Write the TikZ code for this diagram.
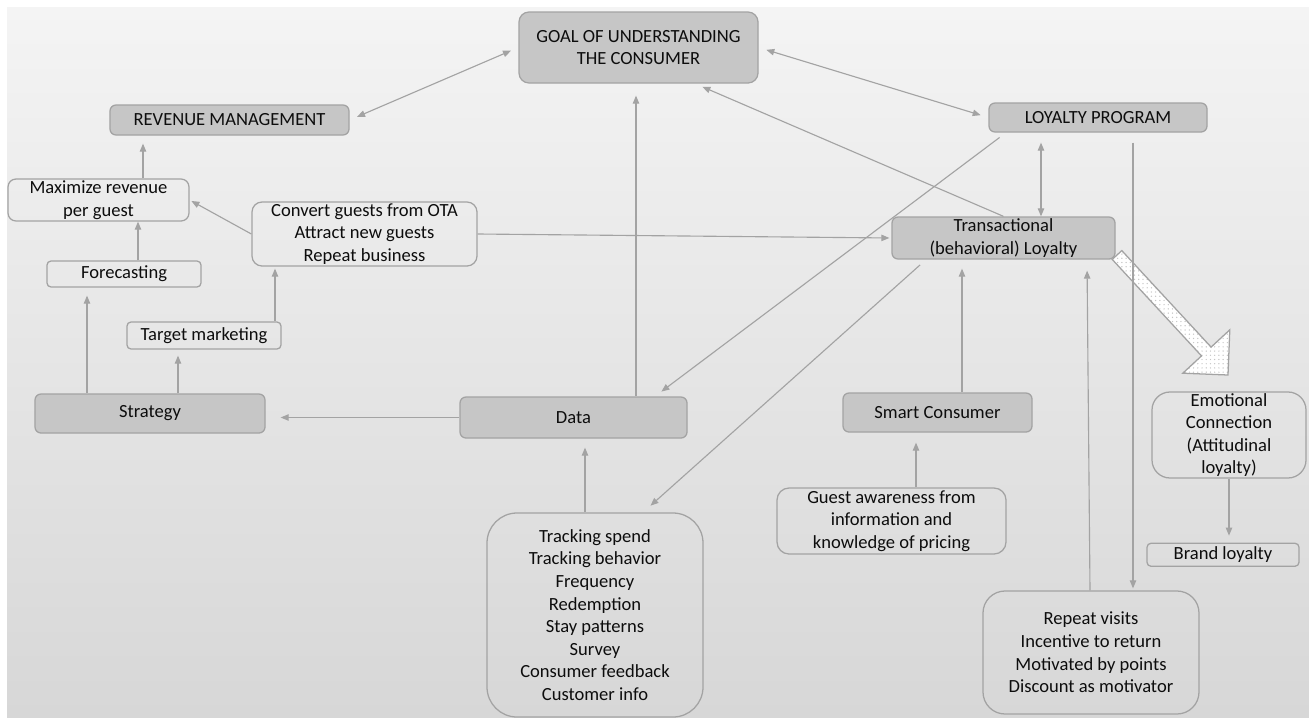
\documentclass[tikz,border=0pt]{standalone}
\usepackage{fontspec}
\setmainfont{Carlito}
\usetikzlibrary{arrows.meta,positioning,patterns}
\definecolor{ink}{HTML}{0D0D0D}
\definecolor{edge}{HTML}{A3A3A3}
\definecolor{boxfill}{HTML}{C6C6C6}
\definecolor{bgtop}{HTML}{F4F4F4}
\definecolor{bgmid}{HTML}{DDDDDD}
\definecolor{bgbot}{HTML}{D7D7D7}
\tikzset{
  every node/.style={font=\fontsize{13.2pt}{16.1pt}\selectfont},
  box/.style={draw=edge, line width=0.9pt, rounded corners=1mm, align=center,
              text=ink, inner sep=0pt},
  gbox/.style={box, fill=boxfill},
  lbox/.style={box},
  arr/.style={-{Triangle[length=2mm, width=1.6mm]}, line width=0.8pt, draw=edge,
              shorten >=2mm},
  darr/.style={{Triangle[length=2mm, width=1.6mm]}-{Triangle[length=2mm, width=1.6mm]},
               line width=0.8pt, draw=edge, shorten >=2mm, shorten <=2mm},
  fatarr/.style={draw=edge, line width=0.9pt, preaction={fill=white},
                 pattern=dots, pattern color=gray!45},
}

\begin{document}
\begin{tikzpicture}[x=0.25mm, y=-0.25mm]

% page and backdrop
\fill[white] (0,0) rectangle (1309,718);
\shade[top color=bgtop, middle color=bgmid, bottom color=bgbot] (7,7) rectangle (1309,717);
\useasboundingbox (0,0) rectangle (1309,718);

\node[gbox, minimum width=59.75mm, minimum height=17.75mm, rounded corners=2.5mm] (goal) at (638.5,47.5) {GOAL OF UNDERSTANDING\\THE CONSUMER};
\node[gbox, minimum width=59.75mm, minimum height=7.5mm, rounded corners=1.5mm] (revenue) at (229.5,120) {REVENUE MANAGEMENT};
\node[gbox, minimum width=54.5mm, minimum height=7.25mm, rounded corners=1.5mm] (loyalty) at (1098,117.5) {LOYALTY PROGRAM};

\node[lbox, minimum width=45.25mm, minimum height=10.5mm, rounded corners=2mm] (maximize) at (98.5,200) {Maximize revenue\\per guest};
\node[lbox, minimum width=56.25mm, minimum height=16mm, rounded corners=2.5mm] (convert) at (364.5,234) {Convert guests from OTA\\Attract new guests\\Repeat business};
\node[lbox, minimum width=38.5mm, minimum height=6.5mm] (forecast) at (124,274) {Forecasting};
\node[lbox, minimum width=38.5mm, minimum height=6.75mm] (target) at (204,335.5) {Target marketing};
\node[gbox, minimum width=57.5mm, minimum height=9.75mm, rounded corners=1.5mm] (strategy) at (150,413.5) {Strategy};

\node[gbox, minimum width=56.75mm, minimum height=10.25mm, rounded corners=1.5mm] (data) at (573.5,417.5) {Data};
\node[lbox, minimum width=54mm, minimum height=51mm, rounded corners=7.5mm] (tracking) at (595,615) {Tracking spend\\Tracking behavior\\Frequency\\Redemption\\Stay patterns\\Survey\\Consumer feedback\\Customer info};

\node[gbox, minimum width=55.75mm, minimum height=10.5mm, rounded corners=1.5mm] (trans) at (1003.5,238) {Transactional\\(behavioral) Loyalty};
\node[gbox, minimum width=47.25mm, minimum height=9.75mm, rounded corners=1.5mm] (smart) at (937.5,412.5) {Smart Consumer};
\node[lbox, minimum width=57.25mm, minimum height=16.5mm, rounded corners=3mm] (guest) at (891.5,521) {Guest awareness from\\information and\\knowledge of pricing};

\node[lbox, minimum width=38.5mm, minimum height=21.5mm, rounded corners=4.5mm] (emotion) at (1229,435) {Emotional\\Connection\\(Attitudinal\\loyalty)};
\node[lbox, minimum width=38mm, minimum height=5.75mm, below=16mm of emotion, xshift=-1.5mm] (brand) {Brand loyalty};
\node[lbox, minimum width=54mm, minimum height=30.75mm, rounded corners=5.5mm] (repeat) at (1091,652.5) {Repeat visits\\Incentive to return\\Motivated by points\\Discount as motivator};

% block arrow out of the transactional box
\draw[fatarr] (1112.2,259.4) -- (1121.8,250.6) -- (1211.1,347.1) -- (1229.8,329.8)
  -- (1228,375) -- (1182.8,373.2) -- (1201.5,355.9) -- cycle;

% links
\draw[darr] (revenue.east) -- (goal.west);
\draw[darr] (goal.east) -- (loyalty.west);
\draw[arr] (trans.north) -- (goal.south -| 695,0);
\draw[arr, shorten >=3mm] (data.north -| 636,0) -- (goal.south -| 636,0);
\draw[darr, shorten <=0pt, shorten >=2.5mm] (trans.north -| 1041,0) -- (loyalty.south -| 1041,0);
\draw[arr, shorten <=2.5mm, shorten >=0.5mm] (loyalty.south -| 1133,0) -- (repeat.north -| 1133,0);
\draw[arr, shorten >=2.75mm] (repeat.north -| 1090,0) -- (trans.south -| 1087,0);
\draw[arr, shorten <=2mm] (loyalty.south -| 1006,0) -- (data.north -| 655,0);
\draw[arr, shorten <=2mm, shorten >=2.5mm] (trans.south -| 926,0) -- (tracking.north -| 643,0);
\draw[arr, shorten >=0.5mm] (convert.east) -- (trans.west);
\draw[arr, shorten >=0.5mm] (convert.west) -- (maximize.east);
\draw[arr, shorten >=0pt] (forecast.north -| 138,0) -- (maximize.south -| 138,0);
\draw[arr] (maximize.north -| 143,0) -- (revenue.south -| 143,0);
\draw[arr, shorten >=0.5mm] (target.north -| 275,0) -- (convert.south -| 275,0);
\draw[arr] (strategy.north -| 87,0) -- (forecast.south -| 87,0);
\draw[arr, shorten >=1.5mm] (strategy.north -| 178,0) -- (target.south -| 178,0);
\draw[arr, shorten >=3.75mm] (data.west) -- (strategy.east |- data.west);
\draw[arr, shorten >=2.25mm] (tracking.north -| 585,0) -- (data.south -| 585,0);
\draw[arr, shorten >=2.5mm] (guest.north -| 916,0) -- (smart.south -| 916,0);
\draw[arr, shorten >=2.25mm] (smart.north -| 962,0) -- (trans.south -| 962,0);
\draw[arr, shorten >=1.75mm] (emotion.south -| 1229,0) -- (brand.north -| 1229,0);

\end{tikzpicture}
\end{document}
